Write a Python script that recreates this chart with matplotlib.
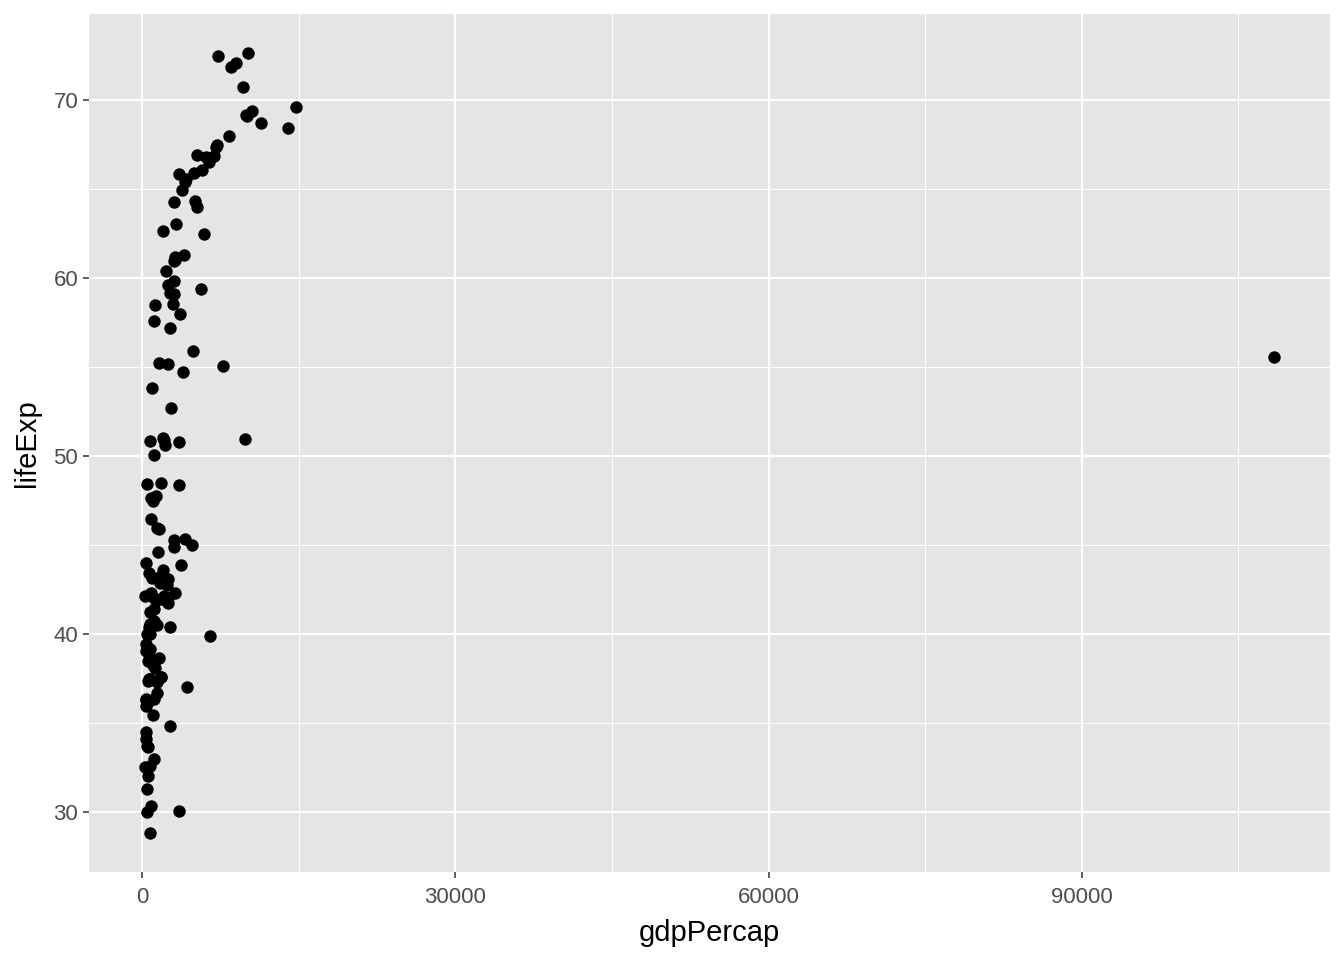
import matplotlib
matplotlib.use("Agg")
import matplotlib.pyplot as plt
from matplotlib.ticker import MultipleLocator

# gdpPercap vs lifeExp, one point per country
gdp_percap = [
    779.4, 1601.1, 2449.0, 3520.6, 5911.3, 10039.6, 6137.1, 9867.1, 684.2, 8343.1,
    1062.8, 2677.3, 973.5, 851.2, 2108.9, 2444.3, 543.3, 339.3, 368.5, 1172.7,
    11367.2, 1071.3, 1178.7, 3940.0, 400.4, 2144.1, 1103.0, 780.5, 2125.6, 2627.0,
    1388.6, 3119.2, 5586.5, 6876.5, 9692.4, 2669.5, 1397.7, 3522.1, 1418.8, 3048.3,
    375.6, 328.9, 362.1, 6424.5, 7029.8, 4293.5, 485.2, 7144.1, 911.3, 3530.7,
    2428.2, 510.2, 299.9, 1840.4, 2194.9, 3054.4, 5263.7, 7267.7, 546.6, 749.7,
    3035.3, 4129.8, 5210.3, 4086.5, 4931.4, 2898.5, 3217.0, 1546.9, 853.5, 1088.3,
    1030.6, 108382.4, 4834.8, 298.8, 575.6, 2387.5, 1443.0, 369.2, 1831.1, 452.3,
    743.1, 1968.0, 3478.1, 786.6, 2647.6, 1688.2, 468.5, 331.0, 2423.8, 545.9,
    8941.6, 10556.6, 3112.4, 761.9, 1077.3, 10095.4, 1828.2, 684.6, 2480.4, 1952.3,
    3758.5, 1272.9, 4029.3, 3068.3, 3082.0, 2718.9, 3144.6, 493.3, 879.6, 6459.6,
    1450.4, 3581.5, 879.8, 2315.1, 5074.7, 4215.0, 1135.7, 4725.3, 3834.0, 1083.5,
    1616.0, 1148.4, 8527.8, 14734.2, 1643.5, 1206.9, 716.7, 757.8, 859.8, 3023.3,
    1468.5, 1969.1, 734.8, 9979.5, 13990.5, 5716.8, 7689.8, 605.1, 1515.6, 781.7,
    1147.4, 406.9,
]
life_exp = [
    28.80, 55.23, 43.08, 30.02, 62.49, 69.12, 66.80, 50.94, 37.48, 68.00,
    38.22, 40.41, 53.82, 47.62, 50.92, 59.60, 31.98, 39.03, 39.42, 38.52,
    68.75, 35.46, 38.09, 54.75, 44.00, 50.64, 40.72, 39.14, 42.11, 57.21,
    40.48, 61.21, 59.42, 66.87, 70.78, 34.81, 45.93, 48.36, 41.89, 45.26,
    34.48, 35.93, 34.08, 66.55, 67.41, 37.00, 30.00, 67.50, 43.15, 65.86,
    42.02, 33.61, 32.50, 37.58, 41.91, 60.96, 64.03, 72.49, 37.37, 37.47,
    44.87, 45.32, 66.91, 65.39, 65.94, 58.53, 63.03, 43.16, 42.27, 50.06,
    47.45, 55.57, 55.93, 42.14, 38.48, 42.72, 36.68, 36.26, 48.46, 33.69,
    40.54, 50.99, 50.79, 42.24, 59.16, 42.87, 31.29, 36.32, 41.73, 36.16,
    72.13, 69.39, 42.31, 37.44, 36.32, 72.67, 37.58, 43.44, 55.19, 62.65,
    43.90, 47.75, 61.31, 59.82, 64.28, 52.72, 61.05, 40.00, 46.47, 39.88,
    37.28, 58.00, 30.33, 60.40, 64.36, 65.57, 32.98, 45.01, 64.94, 57.59,
    38.64, 41.41, 71.86, 69.62, 45.88, 58.50, 41.22, 50.85, 38.60, 59.10,
    44.60, 43.59, 39.98, 69.18, 68.44, 66.07, 55.09, 40.41, 43.16, 32.55,
    42.04, 48.45,
]

plt.rcParams['font.family'] = ['Liberation Sans', 'DejaVu Sans']

fig = plt.figure(figsize=(13.44, 9.6), dpi=100)
ax = fig.add_axes([0.0662, 0.0917, 0.9234, 0.8937])
ax.set_facecolor('#E5E5E5')

ax.scatter(gdp_percap, life_exp, s=80, color='black', linewidths=0, zorder=3)

# ggplot-style 5% expansion
xr = max(gdp_percap) - min(gdp_percap)
yr = max(life_exp) - min(life_exp)
ax.set_xlim(min(gdp_percap) - 0.05 * xr, max(gdp_percap) + 0.05 * xr)
ax.set_ylim(min(life_exp) - 0.05 * yr, max(life_exp) + 0.05 * yr)

ax.xaxis.set_major_locator(MultipleLocator(30000))
ax.xaxis.set_minor_locator(MultipleLocator(15000))
ax.yaxis.set_major_locator(MultipleLocator(10))
ax.yaxis.set_minor_locator(MultipleLocator(5))

ax.grid(which='major', color='white', linewidth=1.5, zorder=0)
ax.grid(which='minor', color='white', linewidth=0.75, zorder=0)
ax.set_axisbelow(True)
for sp in ax.spines.values():
    sp.set_visible(False)

ax.tick_params(which='major', length=4.3, width=1.1, color='#333333',
               labelcolor='#4D4D4D', labelsize=16, pad=3.5)
ax.tick_params(axis='x', which='major', pad=6.5)
ax.tick_params(which='minor', length=0)

ax.set_xlabel('gdpPercap', fontsize=21, color='black', labelpad=8)
ax.set_ylabel('lifeExp', fontsize=21, color='black', labelpad=9)

fig.savefig('out.png', dpi=100)
